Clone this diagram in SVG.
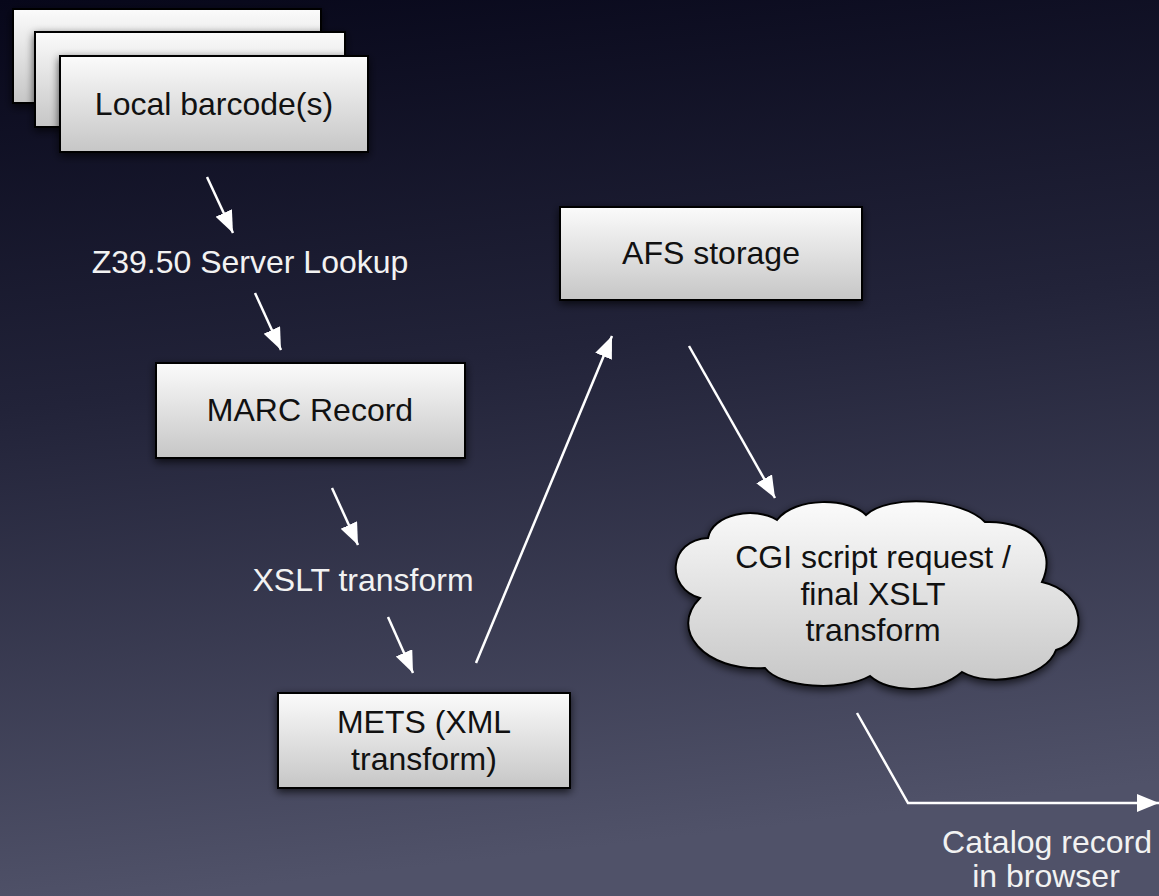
<svg xmlns="http://www.w3.org/2000/svg" width="1159" height="896" viewBox="0 0 1159 896">
  <defs>
    <linearGradient id="bg" x1="0" y1="0" x2="0.15" y2="1">
      <stop offset="0" stop-color="#07071a"/>
      <stop offset="0.45" stop-color="#222339"/>
      <stop offset="1" stop-color="#505269"/>
    </linearGradient>
    <linearGradient id="boxfill" x1="0" y1="0" x2="0" y2="1">
      <stop offset="0" stop-color="#fbfbfb"/>
      <stop offset="1" stop-color="#c6c6c6"/>
    </linearGradient>
    <filter id="shadow" x="-20%" y="-20%" width="140%" height="150%">
      <feDropShadow dx="0" dy="3" stdDeviation="4" flood-color="#000" flood-opacity="0.7"/>
    </filter>
    <marker id="ah" markerUnits="userSpaceOnUse" markerWidth="24" markerHeight="20" refX="22" refY="9" orient="auto">
      <path d="M0,0 L22,9 L0,18 z" fill="#ffffff"/>
    </marker>
    <style>
      .box { fill: url(#boxfill); stroke: #000; stroke-width: 2; filter: url(#shadow); }
      .btxt { font-family: "Liberation Sans", Arial, Helvetica, sans-serif; font-size: 32px; fill: #111; text-anchor: middle; }
      .wtxt { font-family: "Liberation Sans", Arial, Helvetica, sans-serif; font-size: 32px; fill: #f2f2f2; text-anchor: middle; }
      .conn { stroke: #ffffff; stroke-width: 2.5; fill: none; marker-end: url(#ah); }
    </style>
  </defs>

  <rect x="0" y="0" width="1159" height="896" fill="url(#bg)"/>

  <g id="node-barcodes">
    <rect class="box" x="13" y="9" width="308" height="94"/>
    <rect class="box" x="35" y="32" width="310" height="95"/>
    <rect class="box" x="60" y="56" width="308" height="96"/>
    <text class="btxt" x="214" y="115">Local barcode(s)</text>
  </g>

  <g id="node-afs">
    <rect class="box" x="560" y="207" width="302" height="93"/>
    <text class="btxt" x="711" y="264">AFS storage</text>
  </g>

  <g id="node-marc">
    <rect class="box" x="156" y="363" width="309" height="95"/>
    <text class="btxt" x="310" y="421">MARC Record</text>
  </g>

  <g id="node-mets">
    <rect class="box" x="278" y="693" width="292" height="95"/>
    <text class="btxt" x="424" y="733">METS (XML</text>
    <text class="btxt" x="424" y="770">transform)</text>
  </g>

  <g id="node-cgi">
    <path class="box" d="M700,598 C665,588 668,540 708,538 C712,514 755,506 777,520 C795,496 850,498 866,515 C888,494 962,498 985,522 C1030,520 1058,548 1042,582 C1088,592 1088,642 1056,650 C1046,678 990,688 962,672 C936,694 890,694 870,676 C842,692 780,688 765,668 C705,672 668,630 700,598 Z"/>
    <text class="btxt" x="873" y="568">CGI script request /</text>
    <text class="btxt" x="873" y="605">final XSLT</text>
    <text class="btxt" x="873" y="641">transform</text>
  </g>

  <g id="labels">
    <text class="wtxt" x="250" y="273">Z39.50 Server Lookup</text>
    <text class="wtxt" x="363" y="591">XSLT transform</text>
    <text class="wtxt" x="1047" y="853">Catalog record</text>
    <text class="wtxt" x="1046" y="887">in browser</text>
  </g>

  <g id="connectors">
    <line class="conn" x1="207" y1="177" x2="233" y2="233"/>
    <line class="conn" x1="255" y1="293" x2="281" y2="350"/>
    <line class="conn" x1="332" y1="488" x2="358" y2="545"/>
    <line class="conn" x1="388" y1="617" x2="413" y2="673"/>
    <line class="conn" x1="476" y1="663" x2="612" y2="336"/>
    <line class="conn" x1="689" y1="346" x2="775" y2="498"/>
    <polyline class="conn" points="857,713 908,803 1159,803"/>
  </g>
</svg>
